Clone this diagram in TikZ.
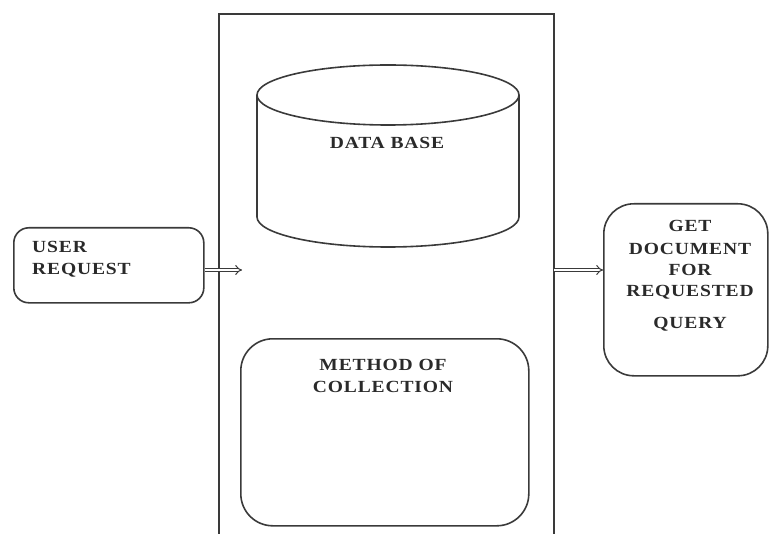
\documentclass[tikz,border=0pt]{standalone}
\usepackage{fontspec}
\setmainfont{Liberation Serif}[FakeStretch=1.15,LetterSpace=5]
\usetikzlibrary{arrows.meta}
\definecolor{ink}{HTML}{3A3A3A}
\definecolor{txt}{HTML}{2A2A2A}
\tikzset{
  line/.style={draw=ink, line width=1.6pt},
  roundbox/.style={line, rounded corners=#1, inner sep=0pt, anchor=north west},
  lbl/.style={text=txt, font=\fontsize{17}{20}\selectfont\bfseries, inner sep=0pt},
  dbl/.style={draw=ink, double=white, double distance=2.4pt, line width=1pt, -{Implies}},
}
\begin{document}
\begin{tikzpicture}[x=1pt,y=-1pt]
\useasboundingbox (0,0) rectangle (770,534);
% outer open rectangle
\draw[line] (219,540) -- (219,14) -- (554,14) -- (554,540);
\coordinate (inL) at (242,270);
\coordinate (outR) at (554,270);
% user request
\node[roundbox=15, minimum width=190pt, minimum height=75pt] (user) at (13,227) {};
\node[lbl, anchor=base west] (u1) at (32,253) {USER};
\node[lbl, anchor=base west] (u2) at (32,275) {REQUEST};
% database cylinder
\draw[line] (388,95) ellipse [x radius=131, y radius=30];
\draw[line] (257,95) -- (257,217) arc[start angle=180, end angle=0, x radius=131, y radius=30] -- (519,95);
\node[lbl, anchor=base] (db) at (387,149) {DATA BASE};
% method of collection
\node[roundbox=32, minimum width=288pt, minimum height=187pt] (method) at (240,338) {};
\node[lbl, anchor=base] (m1) at (383,370) {METHOD OF};
\node[lbl, anchor=base] (m2) at (383,392) {COLLECTION};
% get document
\node[roundbox=30, minimum width=164pt, minimum height=172pt] (get) at (603,203) {};
\node[lbl, anchor=base] (g1) at (690,232) {GET};
\node[lbl, anchor=base] (g2) at (690,255) {DOCUMENT};
\node[lbl, anchor=base] (g3) at (690,276) {FOR};
\node[lbl, anchor=base] (g4) at (690,297) {REQUESTED};
\node[lbl, anchor=base] (g5) at (690,328) {QUERY};
% arrows
\draw[dbl] (user.east |- inL) -- (inL);
\draw[dbl] (outR) -- (get.west |- outR);
\end{tikzpicture}
\end{document}
